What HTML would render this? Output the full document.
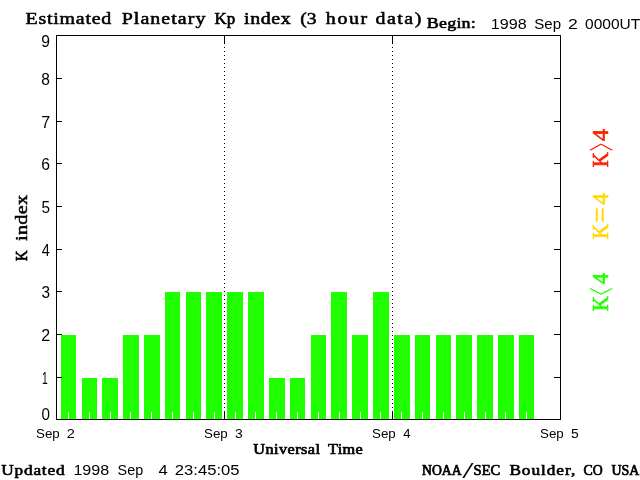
<!DOCTYPE html>
<html><head><meta charset="utf-8"><title>Estimated Planetary Kp index</title>
<style>html,body{margin:0;padding:0;background:#fff;overflow:hidden}svg{display:block}rect{shape-rendering:crispEdges}</style>
</head><body>
<svg width="640" height="480" viewBox="0 0 640 480">
<rect x="0" y="0" width="640" height="480" fill="#fff"/>
<rect x="61" y="335" width="15" height="84" fill="#20ff00"/>
<rect x="82" y="378" width="15" height="41" fill="#20ff00"/>
<rect x="102" y="378" width="16" height="41" fill="#20ff00"/>
<rect x="123" y="335" width="16" height="84" fill="#20ff00"/>
<rect x="144" y="335" width="16" height="84" fill="#20ff00"/>
<rect x="165" y="292" width="15" height="127" fill="#20ff00"/>
<rect x="186" y="292" width="15" height="127" fill="#20ff00"/>
<rect x="206" y="292" width="16" height="127" fill="#20ff00"/>
<rect x="227" y="292" width="16" height="127" fill="#20ff00"/>
<rect x="248" y="292" width="16" height="127" fill="#20ff00"/>
<rect x="269" y="378" width="16" height="41" fill="#20ff00"/>
<rect x="290" y="378" width="15" height="41" fill="#20ff00"/>
<rect x="311" y="335" width="15" height="84" fill="#20ff00"/>
<rect x="331" y="292" width="16" height="127" fill="#20ff00"/>
<rect x="352" y="335" width="16" height="84" fill="#20ff00"/>
<rect x="373" y="292" width="16" height="127" fill="#20ff00"/>
<rect x="394" y="335" width="16" height="84" fill="#20ff00"/>
<rect x="415" y="335" width="15" height="84" fill="#20ff00"/>
<rect x="436" y="335" width="15" height="84" fill="#20ff00"/>
<rect x="456" y="335" width="16" height="84" fill="#20ff00"/>
<rect x="477" y="335" width="16" height="84" fill="#20ff00"/>
<rect x="498" y="335" width="16" height="84" fill="#20ff00"/>
<rect x="519" y="335" width="15" height="84" fill="#20ff00"/>
<rect x="68" y="412" width="1" height="7" fill="#fff"/>
<rect x="89" y="412" width="1" height="7" fill="#fff"/>
<rect x="110" y="412" width="1" height="7" fill="#fff"/>
<rect x="130" y="412" width="1" height="7" fill="#fff"/>
<rect x="151" y="412" width="1" height="7" fill="#fff"/>
<rect x="172" y="412" width="1" height="7" fill="#fff"/>
<rect x="193" y="412" width="1" height="7" fill="#fff"/>
<rect x="214" y="412" width="1" height="7" fill="#fff"/>
<rect x="235" y="412" width="1" height="7" fill="#fff"/>
<rect x="255" y="412" width="1" height="7" fill="#fff"/>
<rect x="276" y="412" width="1" height="7" fill="#fff"/>
<rect x="297" y="412" width="1" height="7" fill="#fff"/>
<rect x="318" y="412" width="1" height="7" fill="#fff"/>
<rect x="339" y="412" width="1" height="7" fill="#fff"/>
<rect x="360" y="412" width="1" height="7" fill="#fff"/>
<rect x="380" y="412" width="1" height="7" fill="#fff"/>
<rect x="401" y="412" width="1" height="7" fill="#fff"/>
<rect x="422" y="412" width="1" height="7" fill="#fff"/>
<rect x="443" y="412" width="1" height="7" fill="#fff"/>
<rect x="464" y="412" width="1" height="7" fill="#fff"/>
<rect x="485" y="412" width="1" height="7" fill="#fff"/>
<rect x="505" y="412" width="1" height="7" fill="#fff"/>
<rect x="526" y="412" width="1" height="7" fill="#fff"/>
<rect x="56" y="35" width="505" height="1" fill="#000"/>
<rect x="56" y="419" width="505" height="1" fill="#000"/>
<rect x="56" y="35" width="1" height="385" fill="#000"/>
<rect x="560" y="35" width="1" height="385" fill="#000"/>
<rect x="57" y="377" width="5" height="1" fill="#000"/>
<rect x="554" y="377" width="6" height="1" fill="#000"/>
<rect x="57" y="334" width="5" height="1" fill="#000"/>
<rect x="554" y="334" width="6" height="1" fill="#000"/>
<rect x="57" y="291" width="5" height="1" fill="#000"/>
<rect x="554" y="291" width="6" height="1" fill="#000"/>
<rect x="57" y="249" width="5" height="1" fill="#000"/>
<rect x="554" y="249" width="6" height="1" fill="#000"/>
<rect x="57" y="206" width="5" height="1" fill="#000"/>
<rect x="554" y="206" width="6" height="1" fill="#000"/>
<rect x="57" y="163" width="5" height="1" fill="#000"/>
<rect x="554" y="163" width="6" height="1" fill="#000"/>
<rect x="57" y="121" width="5" height="1" fill="#000"/>
<rect x="554" y="121" width="6" height="1" fill="#000"/>
<rect x="57" y="78" width="5" height="1" fill="#000"/>
<rect x="554" y="78" width="6" height="1" fill="#000"/>
<rect x="224" y="411" width="1" height="8" fill="#000"/>
<rect x="224" y="36" width="1" height="7" fill="#000"/>
<rect x="224" y="39" width="1" height="1" fill="#000"/>
<rect x="224" y="43" width="1" height="1" fill="#000"/>
<rect x="224" y="47" width="1" height="1" fill="#000"/>
<rect x="224" y="51" width="1" height="1" fill="#000"/>
<rect x="224" y="55" width="1" height="1" fill="#000"/>
<rect x="224" y="59" width="1" height="1" fill="#000"/>
<rect x="224" y="63" width="1" height="1" fill="#000"/>
<rect x="224" y="67" width="1" height="1" fill="#000"/>
<rect x="224" y="71" width="1" height="1" fill="#000"/>
<rect x="224" y="75" width="1" height="1" fill="#000"/>
<rect x="224" y="79" width="1" height="1" fill="#000"/>
<rect x="224" y="83" width="1" height="1" fill="#000"/>
<rect x="224" y="87" width="1" height="1" fill="#000"/>
<rect x="224" y="91" width="1" height="1" fill="#000"/>
<rect x="224" y="95" width="1" height="1" fill="#000"/>
<rect x="224" y="99" width="1" height="1" fill="#000"/>
<rect x="224" y="103" width="1" height="1" fill="#000"/>
<rect x="224" y="107" width="1" height="1" fill="#000"/>
<rect x="224" y="111" width="1" height="1" fill="#000"/>
<rect x="224" y="115" width="1" height="1" fill="#000"/>
<rect x="224" y="119" width="1" height="1" fill="#000"/>
<rect x="224" y="123" width="1" height="1" fill="#000"/>
<rect x="224" y="127" width="1" height="1" fill="#000"/>
<rect x="224" y="131" width="1" height="1" fill="#000"/>
<rect x="224" y="135" width="1" height="1" fill="#000"/>
<rect x="224" y="139" width="1" height="1" fill="#000"/>
<rect x="224" y="143" width="1" height="1" fill="#000"/>
<rect x="224" y="147" width="1" height="1" fill="#000"/>
<rect x="224" y="151" width="1" height="1" fill="#000"/>
<rect x="224" y="155" width="1" height="1" fill="#000"/>
<rect x="224" y="159" width="1" height="1" fill="#000"/>
<rect x="224" y="163" width="1" height="1" fill="#000"/>
<rect x="224" y="167" width="1" height="1" fill="#000"/>
<rect x="224" y="171" width="1" height="1" fill="#000"/>
<rect x="224" y="175" width="1" height="1" fill="#000"/>
<rect x="224" y="179" width="1" height="1" fill="#000"/>
<rect x="224" y="183" width="1" height="1" fill="#000"/>
<rect x="224" y="187" width="1" height="1" fill="#000"/>
<rect x="224" y="191" width="1" height="1" fill="#000"/>
<rect x="224" y="195" width="1" height="1" fill="#000"/>
<rect x="224" y="199" width="1" height="1" fill="#000"/>
<rect x="224" y="203" width="1" height="1" fill="#000"/>
<rect x="224" y="207" width="1" height="1" fill="#000"/>
<rect x="224" y="211" width="1" height="1" fill="#000"/>
<rect x="224" y="215" width="1" height="1" fill="#000"/>
<rect x="224" y="219" width="1" height="1" fill="#000"/>
<rect x="224" y="223" width="1" height="1" fill="#000"/>
<rect x="224" y="227" width="1" height="1" fill="#000"/>
<rect x="224" y="231" width="1" height="1" fill="#000"/>
<rect x="224" y="235" width="1" height="1" fill="#000"/>
<rect x="224" y="239" width="1" height="1" fill="#000"/>
<rect x="224" y="243" width="1" height="1" fill="#000"/>
<rect x="224" y="247" width="1" height="1" fill="#000"/>
<rect x="224" y="251" width="1" height="1" fill="#000"/>
<rect x="224" y="255" width="1" height="1" fill="#000"/>
<rect x="224" y="259" width="1" height="1" fill="#000"/>
<rect x="224" y="263" width="1" height="1" fill="#000"/>
<rect x="224" y="267" width="1" height="1" fill="#000"/>
<rect x="224" y="271" width="1" height="1" fill="#000"/>
<rect x="224" y="275" width="1" height="1" fill="#000"/>
<rect x="224" y="279" width="1" height="1" fill="#000"/>
<rect x="224" y="283" width="1" height="1" fill="#000"/>
<rect x="224" y="287" width="1" height="1" fill="#000"/>
<rect x="224" y="291" width="1" height="1" fill="#000"/>
<rect x="224" y="295" width="1" height="1" fill="#000"/>
<rect x="224" y="299" width="1" height="1" fill="#000"/>
<rect x="224" y="303" width="1" height="1" fill="#000"/>
<rect x="224" y="307" width="1" height="1" fill="#000"/>
<rect x="224" y="311" width="1" height="1" fill="#000"/>
<rect x="224" y="315" width="1" height="1" fill="#000"/>
<rect x="224" y="319" width="1" height="1" fill="#000"/>
<rect x="224" y="323" width="1" height="1" fill="#000"/>
<rect x="224" y="327" width="1" height="1" fill="#000"/>
<rect x="224" y="331" width="1" height="1" fill="#000"/>
<rect x="224" y="335" width="1" height="1" fill="#000"/>
<rect x="224" y="339" width="1" height="1" fill="#000"/>
<rect x="224" y="343" width="1" height="1" fill="#000"/>
<rect x="224" y="347" width="1" height="1" fill="#000"/>
<rect x="224" y="351" width="1" height="1" fill="#000"/>
<rect x="224" y="355" width="1" height="1" fill="#000"/>
<rect x="224" y="359" width="1" height="1" fill="#000"/>
<rect x="224" y="363" width="1" height="1" fill="#000"/>
<rect x="224" y="367" width="1" height="1" fill="#000"/>
<rect x="224" y="371" width="1" height="1" fill="#000"/>
<rect x="224" y="375" width="1" height="1" fill="#000"/>
<rect x="224" y="379" width="1" height="1" fill="#000"/>
<rect x="224" y="383" width="1" height="1" fill="#000"/>
<rect x="224" y="387" width="1" height="1" fill="#000"/>
<rect x="224" y="391" width="1" height="1" fill="#000"/>
<rect x="224" y="395" width="1" height="1" fill="#000"/>
<rect x="224" y="399" width="1" height="1" fill="#000"/>
<rect x="224" y="403" width="1" height="1" fill="#000"/>
<rect x="224" y="407" width="1" height="1" fill="#000"/>
<rect x="392" y="411" width="1" height="8" fill="#000"/>
<rect x="392" y="36" width="1" height="7" fill="#000"/>
<rect x="392" y="39" width="1" height="1" fill="#000"/>
<rect x="392" y="43" width="1" height="1" fill="#000"/>
<rect x="392" y="47" width="1" height="1" fill="#000"/>
<rect x="392" y="51" width="1" height="1" fill="#000"/>
<rect x="392" y="55" width="1" height="1" fill="#000"/>
<rect x="392" y="59" width="1" height="1" fill="#000"/>
<rect x="392" y="63" width="1" height="1" fill="#000"/>
<rect x="392" y="67" width="1" height="1" fill="#000"/>
<rect x="392" y="71" width="1" height="1" fill="#000"/>
<rect x="392" y="75" width="1" height="1" fill="#000"/>
<rect x="392" y="79" width="1" height="1" fill="#000"/>
<rect x="392" y="83" width="1" height="1" fill="#000"/>
<rect x="392" y="87" width="1" height="1" fill="#000"/>
<rect x="392" y="91" width="1" height="1" fill="#000"/>
<rect x="392" y="95" width="1" height="1" fill="#000"/>
<rect x="392" y="99" width="1" height="1" fill="#000"/>
<rect x="392" y="103" width="1" height="1" fill="#000"/>
<rect x="392" y="107" width="1" height="1" fill="#000"/>
<rect x="392" y="111" width="1" height="1" fill="#000"/>
<rect x="392" y="115" width="1" height="1" fill="#000"/>
<rect x="392" y="119" width="1" height="1" fill="#000"/>
<rect x="392" y="123" width="1" height="1" fill="#000"/>
<rect x="392" y="127" width="1" height="1" fill="#000"/>
<rect x="392" y="131" width="1" height="1" fill="#000"/>
<rect x="392" y="135" width="1" height="1" fill="#000"/>
<rect x="392" y="139" width="1" height="1" fill="#000"/>
<rect x="392" y="143" width="1" height="1" fill="#000"/>
<rect x="392" y="147" width="1" height="1" fill="#000"/>
<rect x="392" y="151" width="1" height="1" fill="#000"/>
<rect x="392" y="155" width="1" height="1" fill="#000"/>
<rect x="392" y="159" width="1" height="1" fill="#000"/>
<rect x="392" y="163" width="1" height="1" fill="#000"/>
<rect x="392" y="167" width="1" height="1" fill="#000"/>
<rect x="392" y="171" width="1" height="1" fill="#000"/>
<rect x="392" y="175" width="1" height="1" fill="#000"/>
<rect x="392" y="179" width="1" height="1" fill="#000"/>
<rect x="392" y="183" width="1" height="1" fill="#000"/>
<rect x="392" y="187" width="1" height="1" fill="#000"/>
<rect x="392" y="191" width="1" height="1" fill="#000"/>
<rect x="392" y="195" width="1" height="1" fill="#000"/>
<rect x="392" y="199" width="1" height="1" fill="#000"/>
<rect x="392" y="203" width="1" height="1" fill="#000"/>
<rect x="392" y="207" width="1" height="1" fill="#000"/>
<rect x="392" y="211" width="1" height="1" fill="#000"/>
<rect x="392" y="215" width="1" height="1" fill="#000"/>
<rect x="392" y="219" width="1" height="1" fill="#000"/>
<rect x="392" y="223" width="1" height="1" fill="#000"/>
<rect x="392" y="227" width="1" height="1" fill="#000"/>
<rect x="392" y="231" width="1" height="1" fill="#000"/>
<rect x="392" y="235" width="1" height="1" fill="#000"/>
<rect x="392" y="239" width="1" height="1" fill="#000"/>
<rect x="392" y="243" width="1" height="1" fill="#000"/>
<rect x="392" y="247" width="1" height="1" fill="#000"/>
<rect x="392" y="251" width="1" height="1" fill="#000"/>
<rect x="392" y="255" width="1" height="1" fill="#000"/>
<rect x="392" y="259" width="1" height="1" fill="#000"/>
<rect x="392" y="263" width="1" height="1" fill="#000"/>
<rect x="392" y="267" width="1" height="1" fill="#000"/>
<rect x="392" y="271" width="1" height="1" fill="#000"/>
<rect x="392" y="275" width="1" height="1" fill="#000"/>
<rect x="392" y="279" width="1" height="1" fill="#000"/>
<rect x="392" y="283" width="1" height="1" fill="#000"/>
<rect x="392" y="287" width="1" height="1" fill="#000"/>
<rect x="392" y="291" width="1" height="1" fill="#000"/>
<rect x="392" y="295" width="1" height="1" fill="#000"/>
<rect x="392" y="299" width="1" height="1" fill="#000"/>
<rect x="392" y="303" width="1" height="1" fill="#000"/>
<rect x="392" y="307" width="1" height="1" fill="#000"/>
<rect x="392" y="311" width="1" height="1" fill="#000"/>
<rect x="392" y="315" width="1" height="1" fill="#000"/>
<rect x="392" y="319" width="1" height="1" fill="#000"/>
<rect x="392" y="323" width="1" height="1" fill="#000"/>
<rect x="392" y="327" width="1" height="1" fill="#000"/>
<rect x="392" y="331" width="1" height="1" fill="#000"/>
<rect x="392" y="335" width="1" height="1" fill="#000"/>
<rect x="392" y="339" width="1" height="1" fill="#000"/>
<rect x="392" y="343" width="1" height="1" fill="#000"/>
<rect x="392" y="347" width="1" height="1" fill="#000"/>
<rect x="392" y="351" width="1" height="1" fill="#000"/>
<rect x="392" y="355" width="1" height="1" fill="#000"/>
<rect x="392" y="359" width="1" height="1" fill="#000"/>
<rect x="392" y="363" width="1" height="1" fill="#000"/>
<rect x="392" y="367" width="1" height="1" fill="#000"/>
<rect x="392" y="371" width="1" height="1" fill="#000"/>
<rect x="392" y="375" width="1" height="1" fill="#000"/>
<rect x="392" y="379" width="1" height="1" fill="#000"/>
<rect x="392" y="383" width="1" height="1" fill="#000"/>
<rect x="392" y="387" width="1" height="1" fill="#000"/>
<rect x="392" y="391" width="1" height="1" fill="#000"/>
<rect x="392" y="395" width="1" height="1" fill="#000"/>
<rect x="392" y="399" width="1" height="1" fill="#000"/>
<rect x="392" y="403" width="1" height="1" fill="#000"/>
<rect x="392" y="407" width="1" height="1" fill="#000"/>
<text transform="translate(25.56 23.54) scale(1.200 1)" font-family='"Liberation Serif", serif' font-weight="normal" font-size="16.62" letter-spacing="0.624" fill="#000" stroke="#000" stroke-width="0.52" stroke-linejoin="round">Estimated</text>
<text transform="translate(121.66 23.54) scale(1.200 1)" font-family='"Liberation Serif", serif' font-weight="normal" font-size="16.62" letter-spacing="0.883" fill="#000" stroke="#000" stroke-width="0.52" stroke-linejoin="round">Planetary</text>
<text transform="translate(214.50 23.50) scale(1.023 1)" font-family='"Liberation Serif", serif' font-weight="normal" font-size="16.48" fill="#000" stroke="#000" stroke-width="0.61" stroke-linejoin="round">Kp</text>
<text transform="translate(243.96 23.54) scale(1.200 1)" font-family='"Liberation Serif", serif' font-weight="normal" font-size="16.62" letter-spacing="0.541" fill="#000" stroke="#000" stroke-width="0.52" stroke-linejoin="round">index</text>
<text transform="translate(300.28 23.54) scale(1.178 1)" font-family='"Liberation Serif", serif' font-weight="normal" font-size="16.61" fill="#000" stroke="#000" stroke-width="0.53" stroke-linejoin="round">(3</text>
<text transform="translate(325.86 23.54) scale(1.200 1)" font-family='"Liberation Serif", serif' font-weight="normal" font-size="16.62" letter-spacing="1.300" fill="#000" stroke="#000" stroke-width="0.52" stroke-linejoin="round">hour</text>
<text transform="translate(375.46 23.54) scale(1.200 1)" font-family='"Liberation Serif", serif' font-weight="normal" font-size="16.62" letter-spacing="1.267" fill="#000" stroke="#000" stroke-width="0.52" stroke-linejoin="round">data)</text>
<text transform="translate(426.75 28.41) scale(1.200 1)" font-family='"Liberation Serif", serif' font-weight="normal" font-size="15.00" letter-spacing="0.190" fill="#000" stroke="#000" stroke-width="0.58" stroke-linejoin="round">Begin:</text>
<text transform="translate(490.79 29.00) scale(1.056 1)" font-family='"Liberation Sans", sans-serif' font-weight="normal" font-size="15.26" fill="#000">1998</text>
<text transform="translate(534.32 29.00) scale(0.986 1)" font-family='"Liberation Sans", sans-serif' font-weight="normal" font-size="15.26" fill="#000">Sep</text>
<text transform="translate(568.12 29.00) scale(1.152 1)" font-family='"Liberation Sans", sans-serif' font-weight="normal" font-size="15.26" fill="#000">2</text>
<text transform="translate(585.08 29.00) scale(1.018 1)" font-family='"Liberation Sans", sans-serif' font-weight="normal" font-size="15.26" fill="#000">0000UT</text>
<text transform="translate(41.39 420.00) scale(0.951 1)" font-family='"Liberation Sans", sans-serif' font-weight="normal" font-size="15.99" fill="#000">0</text>
<text transform="translate(42.02 384.00) scale(0.647 1)" font-family='"Liberation Sans", sans-serif' font-weight="normal" font-size="15.99" fill="#000">1</text>
<text transform="translate(41.20 341.00) scale(1.003 1)" font-family='"Liberation Sans", sans-serif' font-weight="normal" font-size="15.99" fill="#000">2</text>
<text transform="translate(41.39 298.00) scale(0.961 1)" font-family='"Liberation Sans", sans-serif' font-weight="normal" font-size="15.99" fill="#000">3</text>
<text transform="translate(41.71 256.00) scale(0.904 1)" font-family='"Liberation Sans", sans-serif' font-weight="normal" font-size="15.99" fill="#000">4</text>
<text transform="translate(41.39 213.00) scale(0.961 1)" font-family='"Liberation Sans", sans-serif' font-weight="normal" font-size="15.99" fill="#000">5</text>
<text transform="translate(41.22 170.00) scale(0.982 1)" font-family='"Liberation Sans", sans-serif' font-weight="normal" font-size="15.99" fill="#000">6</text>
<text transform="translate(41.20 128.00) scale(1.003 1)" font-family='"Liberation Sans", sans-serif' font-weight="normal" font-size="15.99" fill="#000">7</text>
<text transform="translate(41.30 85.00) scale(0.971 1)" font-family='"Liberation Sans", sans-serif' font-weight="normal" font-size="15.99" fill="#000">8</text>
<text transform="translate(41.29 47.00) scale(0.982 1)" font-family='"Liberation Sans", sans-serif' font-weight="normal" font-size="15.99" fill="#000">9</text>
<text transform="translate(36.10 438.00) scale(1.015 1)" font-family='"Liberation Sans", sans-serif' font-weight="normal" font-size="13.08" fill="#000">Sep</text>
<text transform="translate(66.87 438.00) scale(1.109 1)" font-family='"Liberation Sans", sans-serif' font-weight="normal" font-size="13.08" fill="#000">2</text>
<text transform="translate(204.10 438.00) scale(1.015 1)" font-family='"Liberation Sans", sans-serif' font-weight="normal" font-size="13.08" fill="#000">Sep</text>
<text transform="translate(235.04 438.00) scale(1.062 1)" font-family='"Liberation Sans", sans-serif' font-weight="normal" font-size="13.08" fill="#000">3</text>
<text transform="translate(372.10 438.00) scale(1.015 1)" font-family='"Liberation Sans", sans-serif' font-weight="normal" font-size="13.08" fill="#000">Sep</text>
<text transform="translate(403.34 438.00) scale(0.999 1)" font-family='"Liberation Sans", sans-serif' font-weight="normal" font-size="13.08" fill="#000">4</text>
<text transform="translate(540.10 438.00) scale(1.015 1)" font-family='"Liberation Sans", sans-serif' font-weight="normal" font-size="13.08" fill="#000">Sep</text>
<text transform="translate(571.04 438.00) scale(1.062 1)" font-family='"Liberation Sans", sans-serif' font-weight="normal" font-size="13.08" fill="#000">5</text>
<text transform="translate(253.24 453.53) scale(1.200 1)" font-family='"Liberation Serif", serif' font-weight="normal" font-size="13.53" letter-spacing="0.374" fill="#000" stroke="#000" stroke-width="0.64" stroke-linejoin="round">Universal</text>
<text transform="translate(327.99 453.53) scale(1.200 1)" font-family='"Liberation Serif", serif' font-weight="normal" font-size="13.53" letter-spacing="0.294" fill="#000" stroke="#000" stroke-width="0.64" stroke-linejoin="round">Time</text>
<text transform="translate(1.36 474.60) scale(1.200 1)" font-family='"Liberation Serif", serif' font-weight="normal" font-size="14.35" letter-spacing="0.673" fill="#000" stroke="#000" stroke-width="0.61" stroke-linejoin="round">Updated</text>
<text transform="translate(73.39 475.20) scale(1.076 1)" font-family='"Liberation Sans", sans-serif' font-weight="normal" font-size="14.97" fill="#000">1998</text>
<text transform="translate(117.55 475.20) scale(0.962 1)" font-family='"Liberation Sans", sans-serif' font-weight="normal" font-size="14.97" fill="#000">Sep</text>
<text transform="translate(158.57 475.20) scale(1.111 1)" font-family='"Liberation Sans", sans-serif' font-weight="normal" font-size="14.97" fill="#000">4</text>
<text transform="translate(174.77 475.20) scale(1.113 1)" font-family='"Liberation Sans", sans-serif' font-weight="normal" font-size="14.97" fill="#000">23:45:05</text>
<text transform="translate(422.05 474.54) scale(0.968 1)" font-family='"Liberation Serif", serif' font-weight="normal" font-size="14.16" fill="#000" stroke="#000" stroke-width="0.73" stroke-linejoin="round">NOAA</text>
<text transform="translate(473.60 474.55) scale(1.025 1)" font-family='"Liberation Serif", serif' font-weight="normal" font-size="14.20" fill="#000" stroke="#000" stroke-width="0.70" stroke-linejoin="round">SEC</text>
<text transform="translate(509.39 474.60) scale(1.200 1)" font-family='"Liberation Serif", serif' font-weight="normal" font-size="14.35" letter-spacing="0.807" fill="#000" stroke="#000" stroke-width="0.61" stroke-linejoin="round">Boulder,</text>
<text transform="translate(583.61 474.54) scale(0.973 1)" font-family='"Liberation Serif", serif' font-weight="normal" font-size="14.16" fill="#000" stroke="#000" stroke-width="0.73" stroke-linejoin="round">CO</text>
<text transform="translate(611.48 474.54) scale(0.985 1)" font-family='"Liberation Serif", serif' font-weight="normal" font-size="14.17" fill="#000" stroke="#000" stroke-width="0.72" stroke-linejoin="round">USA</text>
<text transform="translate(26.66 261.11) rotate(-90) scale(0.892 1)" font-family='"Liberation Serif", serif' font-weight="normal" font-size="16.54" fill="#000" stroke="#000" stroke-width="0.67" stroke-linejoin="round">K</text>
<text transform="translate(26.75 240.95) rotate(-90) scale(1.200 1)" font-family='"Liberation Serif", serif' font-weight="normal" font-size="16.79" letter-spacing="0.245" fill="#000" stroke="#000" stroke-width="0.51" stroke-linejoin="round">index</text>
<text transform="translate(607.70 167.34) rotate(-90) scale(0.900 1)" font-family='"Liberation Serif", serif' font-weight="normal" font-size="23.52" fill="#ff2000" stroke="#ff2000" stroke-width="0.60" stroke-linejoin="round">K</text>
<text transform="translate(607.70 141.19) rotate(-90) scale(1.042 1)" font-family='"Liberation Serif", serif' font-weight="normal" font-size="23.52" fill="#ff2000" stroke="#ff2000" stroke-width="0.60" stroke-linejoin="round">4</text>
<text transform="translate(607.70 239.35) rotate(-90) scale(0.916 1)" font-family='"Liberation Serif", serif' font-weight="normal" font-size="23.52" fill="#ffd800" stroke="#ffd800" stroke-width="0.60" stroke-linejoin="round">K</text>
<text transform="translate(607.70 204.67) rotate(-90) scale(0.997 1)" font-family='"Liberation Serif", serif' font-weight="normal" font-size="23.52" fill="#ffd800" stroke="#ffd800" stroke-width="0.60" stroke-linejoin="round">4</text>
<text transform="translate(607.70 311.34) rotate(-90) scale(0.900 1)" font-family='"Liberation Serif", serif' font-weight="normal" font-size="23.52" fill="#20ff00" stroke="#20ff00" stroke-width="0.60" stroke-linejoin="round">K</text>
<text transform="translate(607.70 284.15) rotate(-90) scale(0.951 1)" font-family='"Liberation Serif", serif' font-weight="normal" font-size="23.52" fill="#20ff00" stroke="#20ff00" stroke-width="0.60" stroke-linejoin="round">4</text>
<text transform="translate(462.20 478.17) scale(2.036 1.157)" font-family='"Liberation Serif", serif' font-weight="normal" font-size="20" fill="#000">/</text>
<text transform="translate(618.14 151.01) rotate(-90) scale(0.355 1.289)" font-family='"Liberation Serif", serif' font-weight="normal" font-size="40" fill="#ff2000">&gt;</text>
<text transform="translate(609.38 222.65) rotate(-90) scale(0.677 0.680)" font-family='"Liberation Serif", serif' font-weight="normal" font-size="40" fill="#ffd800" stroke="#ffd800" stroke-width="0.6">=</text>
<text transform="translate(618.14 294.92) rotate(-90) scale(0.312 1.289)" font-family='"Liberation Serif", serif' font-weight="normal" font-size="40" fill="#20ff00">&lt;</text>

</svg>
</body></html>
